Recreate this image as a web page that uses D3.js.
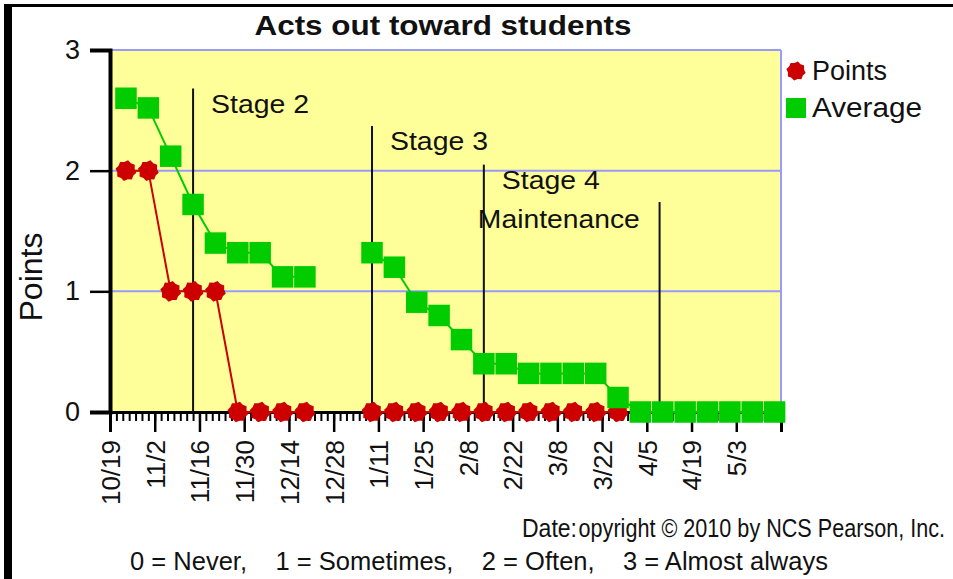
<!DOCTYPE html>
<html>
<head>
<meta charset="utf-8">
<script src="https://cdn.jsdelivr.net/npm/d3@7"></script>
<style>
  body { margin: 0; background: #fff; }
  text { font-family: "Liberation Sans", Arial, sans-serif; fill: #111; }
  .narrow { font-family: "Liberation Sans Narrow", "Arial Narrow", "Liberation Sans", sans-serif; }
</style>
</head>
<body>
<div id="chart"></div>
<script>
// weekly dates (saturdays), winter break has no entries
const dates = ["2009-10-24","2009-10-31","2009-11-07","2009-11-14","2009-11-21","2009-11-28",
  "2009-12-05","2009-12-12","2009-12-19","2009-12-26","2010-01-02","2010-01-09","2010-01-16",
  "2010-01-23","2010-01-30","2010-02-06","2010-02-13","2010-02-20","2010-02-27","2010-03-06",
  "2010-03-13","2010-03-20","2010-03-27","2010-04-03","2010-04-10","2010-04-17","2010-04-24",
  "2010-05-01","2010-05-08","2010-05-15"];
const points = [2,2,1,1,1,0,0,0,0,null,null,0,0,0,0,0,0,0,0,0,0,0,0,
  null,null,null,null,null,null,null];
const average = [2.6,2.52,2.12,1.72,1.4,1.32,1.32,1.12,1.12,null,null,1.32,1.2,0.91,0.8,0.6,
  0.4,0.4,0.32,0.32,0.32,0.32,0.12,0,0,0,0,0,0,0];

// stage markers
const stageDates = ["2009-11-14","2010-01-09","2010-02-13","2010-04-09"];
const stageTops = [2.68, 2.37, 2.05, 1.74];
const stageLabels = [["Stage 2"], ["Stage 3"], ["Stage 4", "Maintenance"], []];

// axis ticks
const tickDates = ["2009-10-19","2009-11-02","2009-11-16","2009-11-30","2009-12-14","2009-12-28",
  "2010-01-11","2010-01-25","2010-02-08","2010-02-22","2010-03-08","2010-03-22","2010-04-05",
  "2010-04-19","2010-05-03"];
const yTicks = [0, 1, 2, 3];
const xDomain = ["2009-10-19", "2010-05-17"];

const seriesNames = ["Points", "Average"];
const scaleNote = "0 = Never,    1 = Sometimes,    2 = Often,    3 = Almost always";

let W = 953, H = 579;
let plot = {left: 110, right: 781, top: 50, bottom: 412};

const parse = d3.timeParse("%Y-%m-%d");
const fmt = d3.timeFormat("%-m/%-d");

let data = dates.map(function(d, i) {
  return {date: parse(d), points: points[i], average: average[i]};
});

let svg = d3.select("#chart").append("svg")
  .attr("width", W)
  .attr("height", H);

svg.append("rect").attr("width", W).attr("height", H).attr("fill", "#fff");

// frame bits at top / left edge
svg.append("rect").attr("x", 4).attr("y", 4).attr("width", W - 4).attr("height", 3).attr("fill", "#000");
svg.append("rect").attr("x", 4).attr("y", 4).attr("width", 8).attr("height", H - 4).attr("fill", "#000");

let x = d3.scaleTime()
  .domain(xDomain.map(parse))
  .range([plot.left, plot.right]);

let y = d3.scaleLinear()
  .domain([0, 3])
  .range([plot.bottom, plot.top]);

// plot background
svg.append("rect")
  .attr("x", plot.left)
  .attr("y", plot.top)
  .attr("width", plot.right - plot.left)
  .attr("height", plot.bottom - plot.top)
  .attr("fill", "#ffff99");

// gridlines
svg.append("g").selectAll("line")
  .data(yTicks.filter(function(t) { return t > 0; }))
  .enter().append("line")
  .attr("x1", plot.left).attr("x2", plot.right)
  .attr("y1", function(d) { return y(d); })
  .attr("y2", function(d) { return y(d); })
  .attr("stroke", "#9999ff")
  .attr("stroke-width", 2);

svg.append("line")
  .attr("x1", plot.right).attr("x2", plot.right)
  .attr("y1", plot.top).attr("y2", plot.bottom)
  .attr("stroke", "#9999ff")
  .attr("stroke-width", 2);

// minor ticks every 2 days
let minor = svg.append("g")
  .attr("transform", "translate(0," + plot.bottom + ")")
  .call(d3.axisBottom(x)
    .tickValues(d3.timeDay.range(x.domain()[0], x.domain()[1], 2))
    .tickSize(9)
    .tickFormat(""));
minor.select(".domain").remove();
minor.selectAll("line").attr("stroke", "#000").attr("stroke-width", 2);

// major x ticks
let xAxis = svg.append("g")
  .attr("transform", "translate(0," + plot.bottom + ")")
  .call(d3.axisBottom(x)
    .tickValues(tickDates.map(parse))
    .tickSize(20)
    .tickFormat(fmt));
xAxis.select(".domain")
  .attr("stroke", "#000")
  .attr("stroke-width", 3);
xAxis.selectAll(".tick line").attr("stroke", "#000").attr("stroke-width", 2.5);
xAxis.selectAll("text")
  .attr("transform", "rotate(-90)")
  .attr("x", -28)
  .attr("y", 0)
  .attr("dy", "0.36em")
  .style("text-anchor", "end")
  .style("font-size", "26px")
  .style("font-family", "'Liberation Sans', Arial, sans-serif")
  .attr("fill", "#111");

// y axis
let yAxis = svg.append("g")
  .attr("transform", "translate(" + plot.left + ",0)")
  .call(d3.axisLeft(y)
    .tickValues(yTicks)
    .tickSize(20)
    .tickPadding(10)
    .tickFormat(d3.format("d")));
yAxis.select(".domain")
  .attr("stroke", "#000")
  .attr("stroke-width", 4);
yAxis.selectAll(".tick line").attr("stroke", "#000").attr("stroke-width", 2.5);
yAxis.selectAll("text")
  .style("font-size", "27px")
  .style("font-family", "'Liberation Sans', Arial, sans-serif")
  .attr("fill", "#111");

// stage lines + labels
let stages = svg.append("g").selectAll("g")
  .data(stageDates.map(function(d, i) { return {date: parse(d), top: stageTops[i], labels: stageLabels[i]}; }))
  .enter().append("g");

stages.append("line")
  .attr("x1", function(d) { return x(d.date); })
  .attr("x2", function(d) { return x(d.date); })
  .attr("y1", function(d) { return y(d.top); })
  .attr("y2", plot.bottom)
  .attr("stroke", "#111")
  .attr("stroke-width", 2);

stages.each(function(d) {
  var g = d3.select(this);
  d.labels.forEach(function(lbl, j) {
    g.append("text")
      .attr("x", x(d.date) + 67 + (j ? 8 : 0))
      .attr("y", y(d.top) + 24 + j * 39)
      .attr("text-anchor", "middle")
      .attr("textLength", j ? 162 : 98)
      .attr("lengthAdjust", "spacingAndGlyphs")
      .style("font-size", "26px")
      .text(lbl);
  });
});

// custom cog-like marker for the red series
const cog = {
  draw: function(ctx, size) {
    var r = Math.sqrt(size / Math.PI);
    for (var i = 0; i < 16; i++) {
      var a = i * Math.PI / 8 + Math.PI / 16, rr = i % 2 ? r * 0.84 : r;
      if (i === 0) ctx.moveTo(rr * Math.cos(a), rr * Math.sin(a));
      else ctx.lineTo(rr * Math.cos(a), rr * Math.sin(a));
    }
    ctx.closePath();
  }
};

let red = "#cc0000", green = "#00cc00";

// points series
svg.append("path")
  .datum(data)
  .attr("fill", "none")
  .attr("stroke", red)
  .attr("stroke-width", 2)
  .attr("d", d3.line()
    .defined(function(d) { return d.points != null; })
    .x(function(d) { return x(d.date); })
    .y(function(d) { return y(d.points); }));

svg.append("g").selectAll("path")
  .data(data.filter(function(d) { return d.points != null; }))
  .enter().append("path")
  .attr("transform", function(d) { return "translate(" + x(d.date) + "," + y(d.points) + ")"; })
  .attr("d", d3.symbol().type(cog).size(350))
  .attr("fill", red);

// average series
svg.append("path")
  .datum(data)
  .attr("fill", "none")
  .attr("stroke", green)
  .attr("stroke-width", 2)
  .attr("d", d3.line()
    .defined(function(d) { return d.average != null; })
    .x(function(d) { return x(d.date); })
    .y(function(d) { return y(d.average); }));

let sq = 21.5;
svg.append("g").selectAll("rect")
  .data(data.filter(function(d) { return d.average != null; }))
  .enter().append("rect")
  .attr("x", function(d) { return x(d.date) - sq / 2; })
  .attr("y", function(d) { return y(d.average) - sq / 2; })
  .attr("width", sq)
  .attr("height", sq)
  .attr("fill", green);

// title
svg.append("text")
  .attr("x", 443)
  .attr("y", 35)
  .attr("text-anchor", "middle")
  .attr("textLength", 377)
  .attr("lengthAdjust", "spacingAndGlyphs")
  .style("font-size", "28px")
  .style("font-weight", "bold")
  .text("Acts out toward students");

// y label
svg.append("text")
  .attr("transform", "translate(42,277) rotate(-90)")
  .attr("text-anchor", "middle")
  .attr("textLength", 89)
  .attr("lengthAdjust", "spacingAndGlyphs")
  .style("font-size", "31px")
  .text("Points");

// legend
let legend = svg.append("g").attr("transform", "translate(796,0)");
legend.append("path")
  .attr("transform", "translate(0,71)")
  .attr("d", d3.symbol().type(cog).size(300))
  .attr("fill", red);
legend.append("rect")
  .attr("x", -10).attr("y", 98)
  .attr("width", 20).attr("height", 20)
  .attr("fill", green);
legend.selectAll("text")
  .data(seriesNames)
  .enter().append("text")
  .attr("x", 16)
  .attr("y", function(d, i) { return i ? 117 : 80; })
  .attr("textLength", function(d, i) { return i ? 110 : 75; })
  .attr("lengthAdjust", "spacingAndGlyphs")
  .style("font-size", "27px")
  .text(function(d) { return d; });

// copyright overlapped by the x axis title
svg.append("text")
  .attr("class", "narrow")
  .attr("x", 563)
  .attr("y", 537)
  .attr("textLength", 382)
  .attr("lengthAdjust", "spacingAndGlyphs")
  .style("font-size", "25px")
  .text("Copyright \u00a9 2010 by NCS Pearson, Inc.");

svg.append("rect")
  .attr("x", 518).attr("y", 512)
  .attr("width", 60).attr("height", 30)
  .attr("fill", "#fff");

svg.append("text")
  .attr("class", "narrow")
  .attr("x", 522)
  .attr("y", 537)
  .attr("textLength", 55)
  .attr("lengthAdjust", "spacingAndGlyphs")
  .style("font-size", "25px")
  .text("Date:");

// rating key
svg.append("text")
  .attr("class", "narrow")
  .attr("x", 130)
  .attr("y", 570)
  .attr("textLength", 698)
  .attr("lengthAdjust", "spacingAndGlyphs")
  .style("font-size", "25px")
  .style("white-space", "pre")
  .text(scaleNote);
</script>
</body>
</html>
